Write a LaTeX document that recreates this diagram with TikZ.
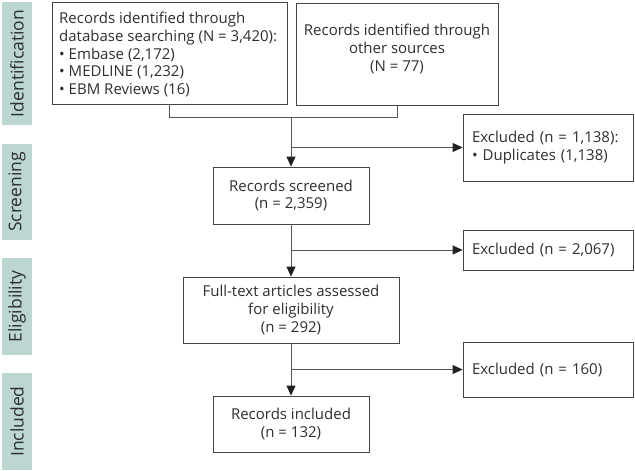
\documentclass[tikz,border=0pt]{standalone}
\usepackage{fontspec}
\setmainfont{Open Sans}
\usetikzlibrary{arrows.meta}
\definecolor{lblfill}{HTML}{BCD6D2}
\definecolor{txt}{HTML}{2E2E2E}
\definecolor{boxline}{HTML}{444444}
\definecolor{conn}{HTML}{555555}
\definecolor{tip}{HTML}{222222}
\tikzset{
  box/.style={draw=boxline, line width=0.8pt, inner sep=0pt, text=txt,
    font=\fontsize{15}{17.6}\selectfont, align=center},
  btext/.style={inner sep=0pt, text=txt, font=\fontsize{15}{17.6}\selectfont},
  lbl/.style={fill=lblfill, inner sep=0pt, text=txt, rotate=90,
    font=\fontsize{17.5}{20}\selectfont},
  arr/.style={draw=conn, line width=0.8pt, -{Triangle[width=9pt,length=10pt,color=tip]}},
  ln/.style={draw=conn, line width=0.8pt}
}
\begin{document}
\begin{tikzpicture}[x=1pt,y=-1pt]
\useasboundingbox (0,0) rectangle (635,471);
% side labels
\node[lbl, minimum width=123pt, minimum height=30pt] (l1) at (17,63.5) {Identification};
\node[lbl, minimum width=96pt, minimum height=30pt] (l2) at (17,192) {Screening};
\node[lbl, minimum width=97pt, minimum height=30pt] (l3) at (17,306.5) {Eligibility};
\node[lbl, minimum width=97pt, minimum height=30pt] (l4) at (17,421.5) {Included};
% boxes
\node[box, minimum width=235pt, minimum height=102pt] (b1) at (169.5,53) {};
\node[btext, align=left, anchor=west] (b1t) at (59,54.5)
  {Records identified through\\database searching (N = 3,420):\\• Embase (2,172)\\• MEDLINE (1,232)\\• EBM Reviews (16)};
\node[box, minimum width=202pt, minimum height=102pt] (b2) at (397,54) {};
\node[btext, align=center] (b2t) at (397,49)
  {Records identified through\\other sources\\(N = 77)};
\node[box, minimum width=156pt, minimum height=57pt] (scr) at (291,195.5) {Records screened\\(n = 2,359)};
\node[box, minimum width=170pt, minimum height=67pt, text width=152pt, inner xsep=9pt, align=left] (ex1) at (548,147.5)
  {Excluded (n = 1,138):\\• Duplicates (1,138)};
\node[box, minimum width=170pt, minimum height=40pt, text width=152pt, inner xsep=9pt, align=left] (ex2) at (548,250)
  {Excluded (n = 2,067)};
\node[box, minimum width=216pt, minimum height=66pt] (full) at (291,310) {Full-text articles assessed\\for eligibility\\(n = 292)};
\node[box, minimum width=170pt, minimum height=55pt, text width=152pt, inner xsep=9pt, align=left] (ex3) at (548,369.5)
  {Excluded (n = 160)};
\node[box, minimum width=156pt, minimum height=56pt] (incl) at (291,424) {Records included\\(n = 132)};
% connectors
\coordinate (jy) at (0,117);
\draw[ln] (b1.south) -- (b1.south |- jy) -- (b2.south |- jy) -- (b2.south);
\draw[arr] (scr.north |- jy) -- (scr.north);
\draw[arr] (scr.north |- ex1.west) -- (ex1.west);
\draw[arr] (scr.south) -- (full.north);
\draw[arr] (scr.south |- ex2.west) -- (ex2.west);
\draw[arr] (full.south) -- (incl.north);
\draw[arr] (full.south |- ex3.west) -- (ex3.west);
\end{tikzpicture}
\end{document}
